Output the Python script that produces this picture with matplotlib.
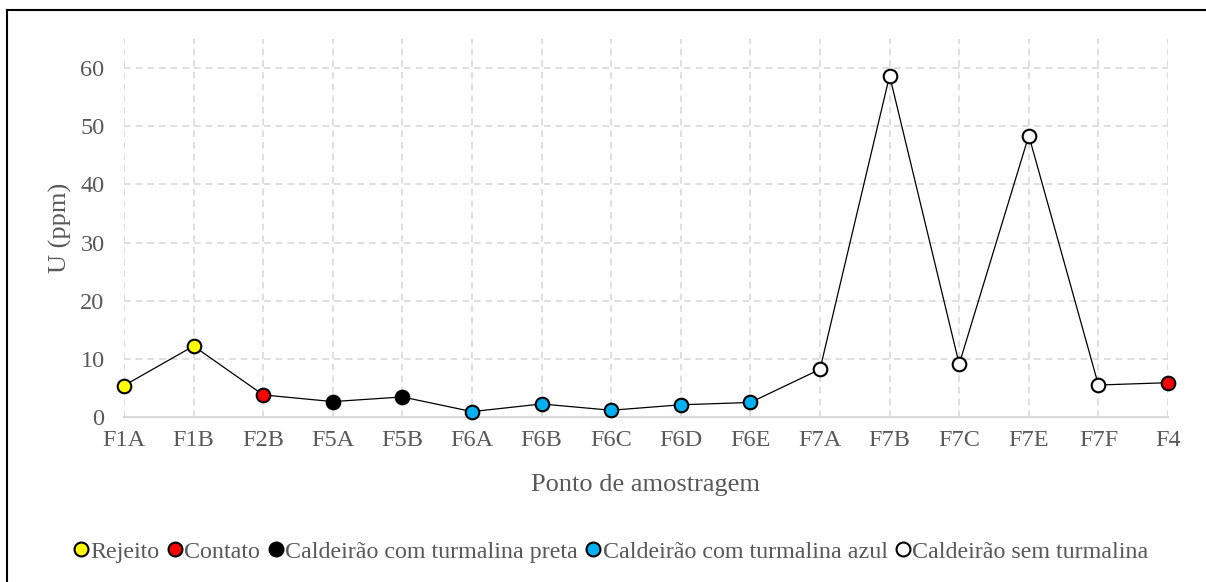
import matplotlib.pyplot as plt
from matplotlib.lines import Line2D

plt.rcParams['font.family'] = ['Liberation Serif', 'DejaVu Serif']

# dados
pontos = ['F1A', 'F1B', 'F2B', 'F5A', 'F5B', 'F6A', 'F6B', 'F6C',
          'F6D', 'F6E', 'F7A', 'F7B', 'F7C', 'F7E', 'F7F', 'F4']
u_ppm = [5.4, 12.2, 3.8, 2.65, 3.45, 0.93, 2.24, 1.16,
         2.1, 2.5, 8.2, 58.7, 9.1, 48.4, 5.5, 5.9]
grupo = ['Rejeito', 'Rejeito', 'Contato', 'preta', 'preta', 'azul', 'azul', 'azul',
         'azul', 'azul', 'sem', 'sem', 'sem', 'sem', 'sem', 'Contato']

grupos = ['Rejeito', 'Contato', 'preta', 'azul', 'sem']
rotulos = ['Rejeito', 'Contato', 'Caldeirão com turmalina preta',
           'Caldeirão com turmalina azul', 'Caldeirão sem turmalina']
cores = {'Rejeito': '#FFFF00', 'Contato': '#FF0000', 'preta': '#000000',
         'azul': '#00B0F0', 'sem': '#FFFFFF'}

cinza = '#595959'

fig = plt.figure(figsize=(12.06, 5.82), dpi=100)
ax = fig.add_axes([0.1028, 0.2835, 0.8657, 0.6495])

x = list(range(len(pontos)))
ax.plot(x, u_ppm, color='black', lw=0.9, zorder=3)
for xi, yi, g in zip(x, u_ppm, grupo):
    ax.plot(xi, yi, 'o', ms=9.8, mfc=cores[g], mec='black', mew=1.5, zorder=4,
            clip_on=False)

ax.set_xlim(0, len(pontos) - 1)
ax.set_ylim(0, 65)
ax.set_yticks(range(0, 61, 10))
ax.set_xticks(x)
ax.set_xticklabels(pontos)

ax.grid(True, color='#D9D9D9', ls=(0, (4, 3)), lw=1.2)
ax.set_axisbelow(True)
for s in ['top', 'right', 'left']:
    ax.spines[s].set_visible(False)
ax.spines['bottom'].set_color('#D9D9D9')
ax.spines['bottom'].set_linewidth(1.5)
ax.tick_params(length=0, labelsize=17.5, colors=cinza)
ax.tick_params(axis='x', pad=9)
ax.tick_params(axis='y', pad=14)

ax.set_ylabel('U (ppm)', fontsize=19, color=cinza, labelpad=6)
ax.set_xlabel('Ponto de amostragem', fontsize=19, color=cinza, labelpad=17)

handles = [Line2D([], [], ls='none', marker='o', ms=10, mfc=cores[g], mec='black', mew=1.5)
           for g in grupos]
fig.legend(handles, rotulos, loc='center', bbox_to_anchor=(0.507, 0.052), ncol=5,
           frameon=False, fontsize=17.3, labelcolor=cinza, handlelength=0.6,
           handletextpad=0.08, columnspacing=0.35)

# moldura (só aparecem as bordas de cima e da esquerda)
fig.add_artist(Line2D([0.0058, 0.0058], [0.0, 0.9828], transform=fig.transFigure,
                      color='black', lw=1.5))
fig.add_artist(Line2D([0.0058, 1.0], [0.9828, 0.9828], transform=fig.transFigure,
                      color='black', lw=1.5))

fig.savefig('out.png', dpi=100)
